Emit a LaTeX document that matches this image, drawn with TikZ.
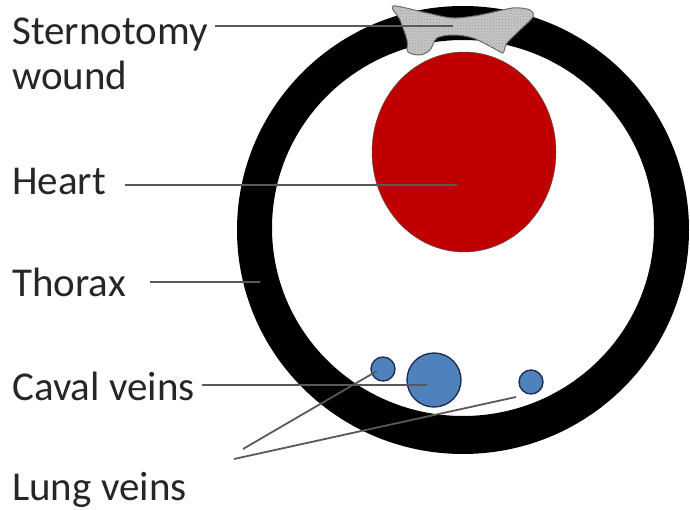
\documentclass[tikz,border=0pt]{standalone}
\usepackage{fontspec}
\setmainfont{Carlito}
\usetikzlibrary{shapes.geometric, patterns}
\definecolor{heartred}{HTML}{C00000}
\definecolor{veinblue}{HTML}{4F81BD}
\definecolor{veinedge}{HTML}{1F3050}

\begin{document}
\begin{tikzpicture}[x=1pt, y=-1pt,
    labeltext/.style={anchor=base west, inner sep=0pt, font=\fontsize{41}{45}\selectfont, text=black!85},
    pointer/.style={draw=black!65, line width=1.8pt},
    vein/.style={circle, draw=veinedge, line width=1.4pt, fill=veinblue, inner sep=0pt}]
  \useasboundingbox (0,0) rectangle (690,510);
  % Thorax ring
  \fill[black, even odd rule] (463,230) ellipse [x radius=226, y radius=224]
    (463,228) ellipse [x radius=191, y radius=188];
  % Heart
  \node[ellipse, draw=black!70, fill=heartred, minimum width=184pt, minimum height=200pt, inner sep=0pt] (heart) at (464,152) {};
  % Sternotomy wound
  \draw[draw=black!60, line width=1pt, fill=gray!45, postaction={pattern=crosshatch dots, pattern color=gray!80}]
    plot[smooth cycle, tension=0.5] coordinates {(393,6) (427,13) (453,18) (480,15) (513,8) (530,10) (533,17)
      (520,30) (507,43) (503,53) (497,50) (473,38) (453,35) (437,38) (430,50) (420,55) (408,52) (407,40) (400,20)};
  % Veins
  \node[vein, minimum size=24pt] (lungleft) at (383,369) {};
  \node[vein, minimum size=54pt] (caval) at (434,380) {};
  \node[vein, minimum size=24pt] (lungright) at (531,382) {};
  % Labels
  \node[labeltext] (sternlbl) at (12,45) {Sternotomy};
  \node[labeltext] (woundlbl) at (12,90) {wound};
  \node[labeltext] (heartlbl) at (12,195) {Heart};
  \node[labeltext] (thoraxlbl) at (12,297) {Thorax};
  \node[labeltext] (cavallbl) at (12,400) {Caval veins};
  \node[labeltext] (lunglbl) at (12,500) {Lung veins};
  % Pointer ends
  \coordinate (sternfrom) at (215,26);
  \coordinate (sternto) at (453,26);
  \coordinate (heartfrom) at (125,185);
  \coordinate (heartto) at (457,185);
  \coordinate (thoraxfrom) at (150,282);
  \coordinate (thoraxto) at (260,282);
  \coordinate (cavalfrom) at (202,385);
  \coordinate (cavalto) at (427,385);
  \coordinate (lungfromA) at (243,449);
  \coordinate (lungtoA) at (377,371);
  \coordinate (lungfromB) at (234,459);
  \coordinate (lungtoB) at (516,397);
  % Pointers
  \draw[pointer] (sternfrom) -- (sternto);
  \draw[pointer] (heartfrom) -- (heartto);
  \draw[pointer] (thoraxfrom) -- (thoraxto);
  \draw[pointer] (cavalfrom) -- (cavalto);
  \draw[pointer] (lungfromA) -- (lungtoA);
  \draw[pointer] (lungfromB) -- (lungtoB);
\end{tikzpicture}
\end{document}
